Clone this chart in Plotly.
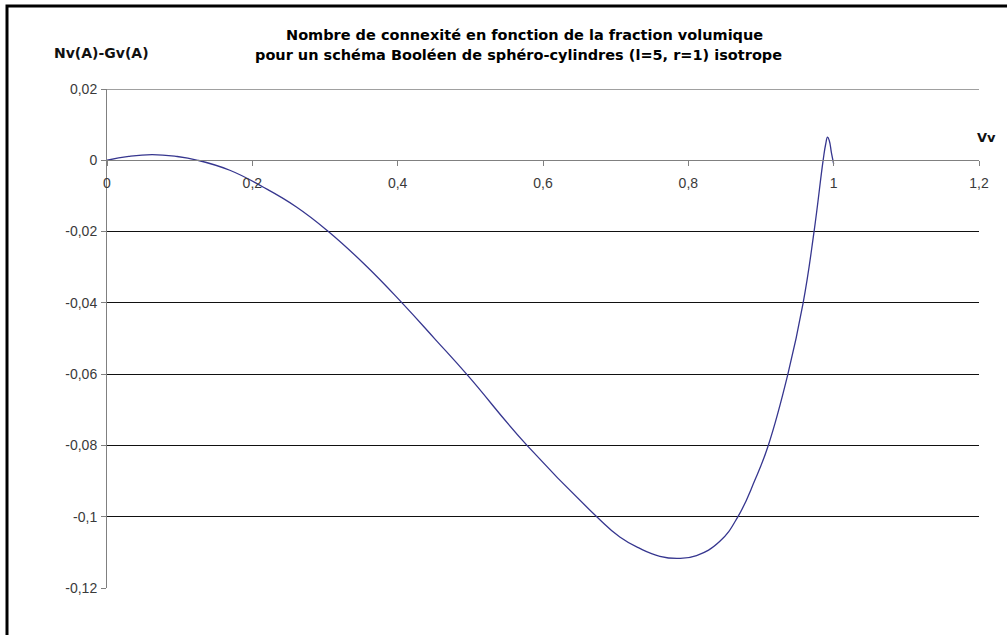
import plotly.graph_objects as go

# Volume fraction Vv and the connectivity number Nv(A)-Gv(A)
vv = [0, 0.03, 0.062, 0.095, 0.125, 0.169, 0.2147, 0.2607, 0.3042, 0.355,
      0.406, 0.452, 0.497, 0.578, 0.674, 0.7057, 0.7332, 0.7608, 0.786,
      0.8113, 0.8434, 0.8685, 0.8915, 0.910, 0.937, 0.958, 0.973, 0.9855,
      0.989, 0.9916, 0.994, 0.997, 1.0]
nv_gv = [0, 0.0011, 0.0016, 0.0011, 0, -0.0028, -0.0075, -0.0131, -0.0199,
         -0.0293, -0.040, -0.0503, -0.0605, -0.080, -0.100, -0.1057, -0.1089,
         -0.1111, -0.1117, -0.1109, -0.1069, -0.0999, -0.0898, -0.080, -0.060,
         -0.040, -0.020, 0, 0.0045, 0.0065, 0.0055, 0.002, -0.001]

x_ticks = [0, 0.2, 0.4, 0.6, 0.8, 1.0, 1.2]
x_tick_labels = ["0", "0,2", "0,4", "0,6", "0,8", "1", "1,2"]
y_ticks = [0.02, 0, -0.02, -0.04, -0.06, -0.08, -0.1, -0.12]
y_tick_labels = ["0,02", "0", "-0,02", "-0,04", "-0,06", "-0,08", "-0,1", "-0,12"]

title_lines = ["Nombre de connexité en fonction de la fraction volumique",
               "pour un schéma Booléen de sphéro-cylindres (l=5, r=1) isotrope"]
y_title = "Nv(A)-Gv(A)"
x_title = "Vv"

W, H = 1007, 635
L, R, T, B = 107, 28, 89, 47
PW, PH = W - L - R, H - T - B


def px(x):
    return (x - L) / PW


def py(y):
    return (H - B - y) / PH


Y_MIN, Y_MAX = -0.12, 0.02
TICK_FONT = dict(family="Liberation Sans, Arial", size=14, color="#3a3a3a")

fig = go.Figure()
fig.add_trace(go.Scatter(
    x=vv, y=nv_gv, mode="lines",
    line=dict(color="#36368f", width=1.3, shape="spline", smoothing=1.3),
    hoverinfo="skip", showlegend=False,
))

fig.update_layout(
    width=W, height=H,
    margin=dict(l=L, r=R, t=T, b=B, pad=0),
    paper_bgcolor="white", plot_bgcolor="white",
    showlegend=False,
    xaxis=dict(
        range=[0, 1.2], tickvals=x_ticks, ticktext=x_tick_labels,
        anchor="free", position=(0 - Y_MIN) / (Y_MAX - Y_MIN),
        showgrid=False, zeroline=False,
        showline=True, linecolor="#808080", linewidth=1,
        ticks="outside", ticklen=5, tickcolor="#808080", tickwidth=1,
        tickfont=TICK_FONT, ticklabelstandoff=5,
    ),
    yaxis=dict(
        range=[Y_MIN, Y_MAX], tickvals=y_ticks, ticktext=y_tick_labels,
        showgrid=True, gridcolor="#111111", gridwidth=1,
        zeroline=True, zerolinecolor="#808080", zerolinewidth=1,
        showline=True, linecolor="#808080", linewidth=1,
        ticks="outside", ticklen=5, tickcolor="#808080", tickwidth=1,
        tickfont=TICK_FONT, ticklabelstandoff=1,
    ),
    shapes=[
        # top gridline drawn in the axis grey
        dict(type="line", xref="x", yref="y", x0=0, x1=1.2, y0=Y_MAX, y1=Y_MAX,
             line=dict(color="#808080", width=1.5)),
        # chart frame
        dict(type="rect", xref="paper", yref="paper",
             x0=px(7), x1=px(1020), y0=py(650), y1=py(6),
             line=dict(color="black", width=3), fillcolor="rgba(0,0,0,0)"),
    ],
    annotations=[
        dict(text=title_lines[0], xref="paper", yref="paper", x=px(524), y=py(35),
             xanchor="center", yanchor="middle", showarrow=False,
             font=dict(family="DejaVu Sans", size=14.5, color="black", weight="bold")),
        dict(text=title_lines[1], xref="paper", yref="paper", x=px(518), y=py(55),
             xanchor="center", yanchor="middle", showarrow=False,
             font=dict(family="DejaVu Sans", size=14.5, color="black", weight="bold")),
        dict(text=y_title, xref="paper", yref="paper", x=px(52), y=py(53),
             xanchor="left", yanchor="middle", showarrow=False,
             font=dict(family="DejaVu Sans", size=14, color="#111111", weight="bold")),
        dict(text=x_title, xref="paper", yref="paper", x=px(975), y=py(137),
             xanchor="left", yanchor="middle", showarrow=False,
             font=dict(family="DejaVu Sans", size=13, color="#111111", weight="bold")),
    ],
)

fig.write_html("out.html")
